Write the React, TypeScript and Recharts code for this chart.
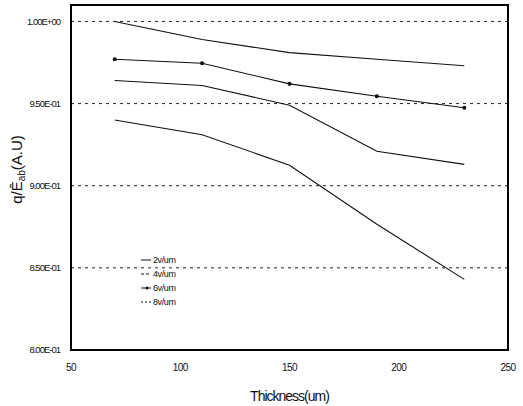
import { LineChart, Line, XAxis, YAxis, CartesianGrid, Label } from "recharts";

const thickness = [70, 110, 150, 190, 230];
const v2 = [1.0, 0.989, 0.981, 0.977, 0.973];
const v4 = [0.964, 0.961, 0.949, 0.921, 0.913];
const v6 = [0.977, 0.9745, 0.962, 0.9545, 0.9475];
const v8 = [0.94, 0.931, 0.9125, 0.8765, 0.843];

const xTicks = [50, 100, 150, 200, 250];
const yTicks = [0.8, 0.85, 0.9, 0.95, 1.0];
const xDomain = [50, 250];
const yDomain = [0.8, 1.01];

const data = thickness.map((t, i) => ({ t, v2: v2[i], v4: v4[i], v6: v6[i], v8: v8[i] }));

const FONT = "Arial, 'Liberation Sans', sans-serif";
const INK = "#111";

// layout
const W = 523;
const H = 406;
const MARGIN = { top: 5, right: 15, bottom: 26, left: 0 };
const Y_AXIS_W = 71;
const X_AXIS_H = 30;

function sci(v: number) {
  const [m, e] = v.toExponential(2).toUpperCase().split("E");
  const sign = e.startsWith("-") ? "-" : "+";
  const digits = e.replace(/[+-]/, "").padStart(2, "0");
  return `${m}E${sign}${digits}`;
}

const legendItems = [
  { name: "2v/um", dash: undefined, dot: false },
  { name: "4v/um", dash: "3 2", dot: false },
  { name: "6v/um", dash: undefined, dot: true },
  { name: "8v/um", dash: "2 2", dot: false },
];

function CustomLegend() {
  return (
    <div style={{ position: "absolute", left: 140, top: 253, fontFamily: FONT, fontSize: 9, lineHeight: "14px", letterSpacing: -0.4, color: INK }}>
      {legendItems.map((it) => (
        <div key={it.name} style={{ display: "flex", alignItems: "center" }}>
          <svg width={12} height={8} style={{ marginRight: 1 }}>
            <line x1={1} y1={4} x2={11} y2={4} stroke={INK} strokeWidth={1} strokeDasharray={it.dash} />
            {it.dot && <circle cx={7} cy={4} r={1.5} fill={INK} />}
          </svg>
          <span>{it.name}</span>
        </div>
      ))}
    </div>
  );
}

// plot box border, sized from the chart margins
function Frame() {
  const left = MARGIN.left + Y_AXIS_W;
  const top = MARGIN.top;
  const width = W - left - MARGIN.right;
  const height = H - top - MARGIN.bottom - X_AXIS_H;
  return (
    <svg width={W} height={H} style={{ position: "absolute", left: 0, top: 0, zIndex: 5, pointerEvents: "none" }}>
      <rect x={left} y={top} width={width} height={height} fill="none" stroke="#000" strokeWidth={2} />
    </svg>
  );
}

function YLabel(props: any) {
  const { viewBox } = props;
  const cx = 22;
  const cy = viewBox.y + viewBox.height / 2 - 8;
  return (
    <text x={cx} y={cy} transform={`rotate(-90 ${cx} ${cy})`} textAnchor="middle" fontFamily="Arial, sans-serif" fontSize={15} fill={INK}>
      q/Ē<tspan fontSize={10} dy={3}>ab</tspan>
      <tspan dy={-3}>(A.U)</tspan>
    </text>
  );
}

export default function App() {
  return (
    <div style={{ position: "absolute", left: 0, top: 0, width: W, height: H, background: "#fff" }}>
      <LineChart width={W} height={H} data={data} margin={MARGIN}>
        <CartesianGrid vertical={false} stroke="#222" strokeDasharray="3 4" />
        <XAxis
          dataKey="t"
          type="number"
          domain={xDomain}
          ticks={xTicks}
          axisLine={false}
          tickLine={false}
          height={X_AXIS_H}
          tick={{ fontSize: 10, fontFamily: FONT, fill: INK, letterSpacing: -0.6 }}
          tickMargin={8}
        >
          <Label value="Thickness(um)" position="insideBottom" offset={-21} style={{ fontSize: 14, fontFamily: FONT, fill: INK, letterSpacing: -1 }} />
        </XAxis>
        <YAxis
          type="number"
          domain={yDomain}
          ticks={yTicks}
          width={Y_AXIS_W}
          axisLine={false}
          tickLine={false}
          tickFormatter={sci}
          tick={{ fontSize: 9.5, fontFamily: FONT, fill: INK, letterSpacing: -1 }}
          tickMargin={5}
          allowDataOverflow
        >
          <Label content={<YLabel />} />
        </YAxis>
        <Line dataKey="v2" name="2v/um" stroke={INK} strokeWidth={1.1} dot={false} isAnimationActive={false} />
        <Line dataKey="v4" name="4v/um" stroke={INK} strokeWidth={1.1} dot={false} isAnimationActive={false} />
        <Line dataKey="v6" name="6v/um" stroke={INK} strokeWidth={1.1} dot={{ r: 1.5, fill: INK, stroke: INK }} isAnimationActive={false} />
        <Line dataKey="v8" name="8v/um" stroke={INK} strokeWidth={1.1} dot={false} isAnimationActive={false} />
      </LineChart>
      <Frame />
      <CustomLegend />
    </div>
  );
}
